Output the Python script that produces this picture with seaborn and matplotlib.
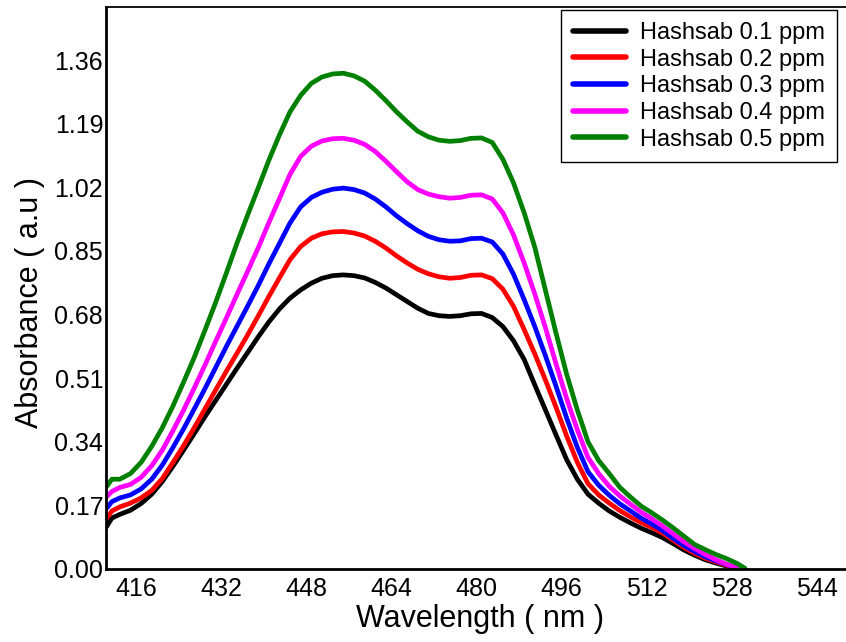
import numpy as np
import pandas as pd
import matplotlib
matplotlib.use("Agg")
import matplotlib.pyplot as plt
from matplotlib.ticker import MultipleLocator, FixedLocator
import seaborn as sns

wavelength = [410.5, 411.5, 413, 415, 417, 419, 421, 423, 425, 427, 429, 431, 433, 435, 437,
              439, 441, 443, 445, 447, 449, 451, 453, 455, 457, 459, 461, 463, 465, 467, 469,
              471, 473, 475, 477, 479, 481, 483, 485, 487, 489, 491, 493, 495, 497, 499, 501,
              503, 505, 507, 509, 511, 513, 515, 517, 519, 521, 523, 525, 527, 529, 530.5]

ppm_01 = [0.113, 0.136, 0.146, 0.157, 0.175, 0.200, 0.234, 0.275, 0.318, 0.362, 0.407, 0.450,
          0.493, 0.536, 0.578, 0.620, 0.660, 0.695, 0.724, 0.746, 0.764, 0.777, 0.784, 0.786,
          0.784, 0.778, 0.766, 0.751, 0.733, 0.715, 0.697, 0.683, 0.677, 0.675, 0.677, 0.682,
          0.683, 0.672, 0.648, 0.610, 0.560, 0.492, 0.425, 0.358, 0.292, 0.240, 0.200, 0.176,
          0.155, 0.138, 0.123, 0.109, 0.097, 0.084, 0.068, 0.051, 0.037, 0.025, 0.016, 0.008,
          0.001, np.nan]

ppm_02 = [0.135, 0.155, 0.166, 0.176, 0.190, 0.210, 0.242, 0.285, 0.330, 0.378, 0.428, 0.478,
          0.528, 0.576, 0.625, 0.676, 0.728, 0.778, 0.827, 0.862, 0.884, 0.896, 0.901, 0.902,
          0.898, 0.890, 0.876, 0.858, 0.837, 0.818, 0.801, 0.789, 0.781, 0.777, 0.779, 0.785,
          0.786, 0.776, 0.748, 0.702, 0.640, 0.575, 0.505, 0.432, 0.355, 0.285, 0.228, 0.198,
          0.176, 0.156, 0.139, 0.124, 0.111, 0.096, 0.077, 0.058, 0.042, 0.029, 0.019, 0.010,
          0.002, np.nan]

ppm_03 = [0.162, 0.180, 0.190, 0.198, 0.214, 0.240, 0.278, 0.325, 0.375, 0.428, 0.482, 0.538,
          0.594, 0.648, 0.702, 0.757, 0.815, 0.870, 0.925, 0.968, 0.993, 1.007, 1.015, 1.018,
          1.014, 1.005, 0.989, 0.968, 0.944, 0.923, 0.904, 0.889, 0.880, 0.876, 0.877, 0.883,
          0.884, 0.874, 0.842, 0.788, 0.720, 0.648, 0.570, 0.488, 0.403, 0.325, 0.260, 0.224,
          0.197, 0.174, 0.155, 0.136, 0.120, 0.103, 0.082, 0.063, 0.047, 0.033, 0.022, 0.012,
          0.003, np.nan]

ppm_04 = [0.193, 0.207, 0.218, 0.226, 0.245, 0.276, 0.318, 0.370, 0.425, 0.484, 0.545, 0.608,
          0.670, 0.733, 0.795, 0.858, 0.925, 0.990, 1.055, 1.103, 1.130, 1.144, 1.150, 1.151,
          1.146, 1.135, 1.116, 1.090, 1.062, 1.035, 1.014, 1.002, 0.995, 0.991, 0.993, 0.999,
          1.000, 0.989, 0.952, 0.893, 0.818, 0.735, 0.645, 0.548, 0.455, 0.372, 0.298, 0.255,
          0.221, 0.195, 0.173, 0.152, 0.134, 0.115, 0.094, 0.073, 0.055, 0.039, 0.025, 0.013,
          0.004, np.nan]

ppm_05 = [0.220, 0.240, 0.240, 0.255, 0.285, 0.328, 0.378, 0.436, 0.500, 0.566, 0.638, 0.712,
          0.790, 0.870, 0.945, 1.018, 1.092, 1.160, 1.222, 1.266, 1.298, 1.315, 1.323, 1.325,
          1.318, 1.304, 1.280, 1.252, 1.222, 1.195, 1.170, 1.155, 1.146, 1.143, 1.145, 1.151,
          1.152, 1.140, 1.095, 1.032, 0.952, 0.860, 0.745, 0.630, 0.520, 0.425, 0.340, 0.290,
          0.255, 0.218, 0.192, 0.168, 0.150, 0.131, 0.110, 0.088, 0.066, 0.052, 0.039, 0.028,
          0.015, 0.002]

series_names = ["Hashsab 0.1 ppm", "Hashsab 0.2 ppm", "Hashsab 0.3 ppm",
                "Hashsab 0.4 ppm", "Hashsab 0.5 ppm"]
series_values = [ppm_01, ppm_02, ppm_03, ppm_04, ppm_05]
colors = ["#000000", "#ff0000", "#0000ff", "#ff00ff", "#008000"]

x_ticks = [416, 432, 448, 464, 480, 496, 512, 528, 544]
y_ticks = [0.00, 0.17, 0.34, 0.51, 0.68, 0.85, 1.02, 1.19, 1.36]

frames = []
for name, vals in zip(series_names, series_values):
    frames.append(pd.DataFrame({"Wavelength": wavelength, "Absorbance": vals, "Series": name}))
df = pd.concat(frames, ignore_index=True).dropna()

sns.set_style("white")
plt.rcParams["font.family"] = ["Liberation Sans", "DejaVu Sans"]
plt.rcParams["text.color"] = "black"
plt.rcParams["axes.labelcolor"] = "black"
plt.rcParams["xtick.color"] = "black"
plt.rcParams["ytick.color"] = "black"

fig = plt.figure(figsize=(8.46, 6.42), dpi=100)
ax = fig.add_axes([106 / 846, (642 - 569) / 642, 740 / 846, 562 / 642])

sns.lineplot(data=df, x="Wavelength", y="Absorbance", hue="Series",
             hue_order=series_names, palette=colors, linewidth=3.4,
             sort=True, estimator=None, ax=ax)

ax.set_xlim(410.4, 549.5)
ax.set_ylim(0, 1.502)
ax.xaxis.set_major_locator(FixedLocator(x_ticks))
ax.xaxis.set_minor_locator(MultipleLocator(2))
ax.yaxis.set_major_locator(FixedLocator(y_ticks))
ax.set_yticklabels([f"{v:.2f}" for v in y_ticks])
ax.set_xticklabels([str(v) for v in x_ticks])

ax.tick_params(axis="x", which="both", direction="inout", length=4, width=0.8,
               labelsize=18, pad=4, colors="black", labelcolor="black")
ax.tick_params(axis="y", which="both", length=0, labelsize=18, pad=2,
               colors="black", labelcolor="black")

for side in ["left", "bottom"]:
    ax.spines[side].set_linewidth(2.0)
    ax.spines[side].set_color("black")
ax.spines["top"].set_linewidth(1.3)
ax.spines["top"].set_color("black")
ax.spines["right"].set_visible(False)

ax.set_xlabel("Wavelength ( nm )", fontsize=22, color="black")
ax.set_ylabel("Absorbance ( a.u )", fontsize=22, color="black")
ax.xaxis.set_label_coords(0.505, -0.062)
ax.yaxis.set_label_coords(-0.082, 0.475)

leg = ax.legend(loc="upper left", bbox_to_anchor=(0.615, 0.9947), borderaxespad=0,
                fontsize=17, frameon=True, fancybox=False, edgecolor="black",
                framealpha=1, handlelength=2.25, labelspacing=0.2, handletextpad=0.6,
                borderpad=0.5)
leg.get_frame().set_linewidth(1.0)
for text in leg.get_texts():
    text.set_color("black")
for line in leg.get_lines():
    line.set_linewidth(4)

fig.savefig("out.png", dpi=100)
